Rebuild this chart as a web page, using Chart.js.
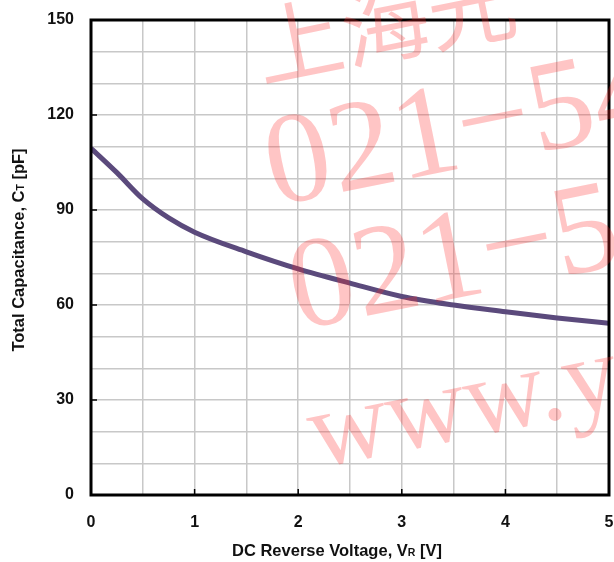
<!DOCTYPE html>
<html>
<head>
  <title>Total Capacitance vs DC Reverse Voltage</title>
  <script src="https://cdn.jsdelivr.net/npm/chart.js"></script>
  <style>
    html, body { margin: 0; padding: 0; background: #fff; }
    #wrap { width: 614px; height: 562px; }
  </style>
</head>
<body>
  <div id="wrap"><canvas id="chart" width="614" height="562"></canvas></div>

  <script>
    // values
    const voltage = [0, 0.25, 0.5, 0.75, 1, 1.5, 2, 2.5, 3, 3.5, 4, 4.5, 5];
    const capacitance = [109.5, 101.8, 93.5, 87.5, 83, 76.8, 71.4, 66.9, 62.7, 60.0, 57.9, 55.9, 54.2];
    const xLabels = [0, 1, 2, 3, 4, 5];
    const yLabels = [0, 30, 60, 90, 120, 150];
    const watermark = ['上海光', '021−54', '021−5', 'www.y'];

    const labelFont = { family: 'Liberation Sans, Arial, sans-serif', size: 16, weight: 'bold' };

    // box around the plot, short inner ticks, axis titles with subscripts, watermark
    const decor = {
      id: 'decor',
      afterDraw(chart) {
        const ctx = chart.ctx;
        const a = chart.chartArea;
        const xs = chart.scales.x, ys = chart.scales.y;
        ctx.save();

        // inner tick marks on labelled values
        ctx.strokeStyle = '#000';
        ctx.lineWidth = 1.5;
        xLabels.forEach(v => {
          const px = xs.getPixelForValue(v);
          ctx.beginPath(); ctx.moveTo(px, a.bottom); ctx.lineTo(px, a.bottom - 6); ctx.stroke();
        });
        yLabels.forEach(v => {
          const py = ys.getPixelForValue(v);
          ctx.beginPath(); ctx.moveTo(a.left, py); ctx.lineTo(a.left + 6, py); ctx.stroke();
        });

        // frame
        ctx.lineWidth = 3;
        ctx.strokeRect(a.left, a.top, a.right - a.left, a.bottom - a.top);

        // axis titles
        ctx.fillStyle = '#111';
        ctx.textBaseline = 'alphabetic';
        const big = 'bold 16.5px Liberation Sans, Arial, sans-serif';
        const small = 'bold 10.5px Liberation Sans, Arial, sans-serif';
        const drawParts = (parts, x, y) => {
          let w = 0;
          parts.forEach(p => { ctx.font = p[1] ? small : big; w += ctx.measureText(p[0]).width; });
          let cx = x - w / 2;
          parts.forEach(p => {
            ctx.font = p[1] ? small : big;
            ctx.fillText(p[0], cx, y);
            cx += ctx.measureText(p[0]).width;
          });
        };
        drawParts([['DC Reverse Voltage, V', 0], ['R', 1], [' [V]', 0]], (a.left + a.right) / 2 - 13, 556);
        ctx.save();
        ctx.translate(24, 250);
        ctx.rotate(-Math.PI / 2);
        drawParts([['Total Capacitance, C', 0], ['T', 1], [' [pF]', 0]], 0, 0);
        ctx.restore();

        // watermark
        ctx.fillStyle = 'rgba(255, 40, 40, 0.27)';
        const rows = [
          [watermark[0], 262, 82, '88px Noto Sans CJK SC, sans-serif'],
          [watermark[1], 274, 206, '130px Liberation Serif, serif'],
          [watermark[2], 298, 330, '130px Liberation Serif, serif'],
          [watermark[3], 316, 468, '110px Liberation Serif, serif']
        ];
        rows.forEach(r => {
          ctx.save();
          ctx.translate(r[1], r[2]);
          ctx.rotate(-0.2);
          ctx.font = r[3];
          ctx.fillText(r[0], 0, 0);
          ctx.restore();
        });
        ctx.restore();
      }
    };

    new Chart(document.getElementById('chart'), {
      type: 'line',
      data: {
        datasets: [{
          data: voltage.map((v, i) => ({ x: v, y: capacitance[i] })),
          borderColor: '#5b4a7c',
          borderWidth: 5,
          pointRadius: 0,
          fill: false,
          cubicInterpolationMode: 'monotone'
        }]
      },
      options: {
        responsive: false,
        animation: false,
        layout: { padding: { top: 20, right: 5, left: 0, bottom: 0 } },
        plugins: { legend: { display: false }, tooltip: { enabled: false } },
        scales: {
          x: {
            type: 'linear',
            min: 0,
            max: 5,
            afterFit: s => { s.height = 67; s.paddingLeft = 0; s.paddingRight = 0; },
            border: { display: false },
            grid: { color: '#c8c8c8', lineWidth: 1.5, drawTicks: false },
            ticks: {
              stepSize: 0.5,
              autoSkip: false,
              maxRotation: 0,
              padding: 18,
              color: '#111',
              font: labelFont,
              callback: v => (Number.isInteger(v) ? v : '')
            }
          },
          y: {
            min: 0,
            max: 150,
            afterFit: s => { s.width = 91; s.paddingTop = 0; s.paddingBottom = 0; },
            border: { display: false },
            grid: { color: '#c8c8c8', lineWidth: 1.5, drawTicks: false },
            ticks: {
              stepSize: 10,
              autoSkip: false,
              padding: 17,
              color: '#111',
              font: labelFont,
              callback: v => (v % 30 === 0 ? v : '')
            }
          }
        }
      },
      plugins: [decor]
    });
  </script>
</body>
</html>
